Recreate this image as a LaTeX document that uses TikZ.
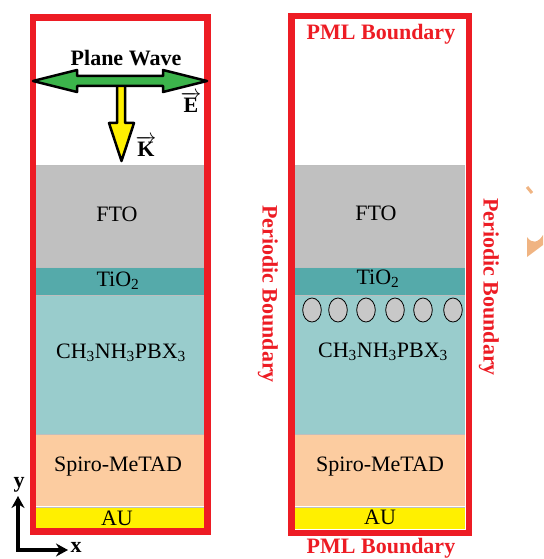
\documentclass[tikz,border=0pt]{standalone}
\usepackage{fontspec}
\setmainfont{Liberation Serif}
\usetikzlibrary{arrows.meta}
\definecolor{pmlred}{RGB}{237,28,36}
\definecolor{ftogray}{RGB}{192,192,192}
\definecolor{tiocol}{RGB}{85,170,170}
\definecolor{perocol}{RGB}{153,204,204}
\definecolor{spirocol}{RGB}{252,204,160}
\definecolor{aucol}{RGB}{255,240,0}
\definecolor{wavegreen}{RGB}{60,180,75}
\definecolor{kyellow}{RGB}{255,240,0}
\definecolor{sepgray}{RGB}{190,190,190}
\definecolor{partgray}{RGB}{200,200,200}
\definecolor{smudge}{RGB}{240,180,130}
\tikzset{
  lbl/.style={font=\fontsize{22}{26}\selectfont, inner sep=0pt},
  blbl/.style={font=\fontsize{22}{26}\selectfont\bfseries, inner sep=0pt},
  redlbl/.style={blbl, text=pmlred},
  frame/.style={draw=pmlred, line width=6.5pt},
  sep/.style={draw=sepgray, line width=1pt},
  particle/.style={fill=partgray, draw=black, line width=0.8pt},
  outlinearrow/.style={draw=black, line width=2.5pt, line join=round},
  axis/.style={line width=3.5pt, line join=miter, {Stealth[length=12pt,width=13pt]}-{Stealth[length=12pt,width=13pt]}}
}
\begin{document}
\begin{tikzpicture}[x=1pt,y=-1pt]
\useasboundingbox (0,0) rectangle (543,559);
% ---------- left stack ----------
\fill[ftogray] (36,165) rectangle (204,267);
\fill[tiocol] (36,267) rectangle (204,295);
\fill[perocol] (36,295) rectangle (204,434);
\fill[spirocol] (36,434) rectangle (204,506);
\fill[aucol] (36,508) rectangle (204,528);
\draw[sep] (36,165) -- (204,165);
\draw[sep] (36,267) -- (204,267);
\draw[sep] (36,295) -- (204,295);
\draw[sep] (36,434) -- (204,434);
\draw[sep] (36,507) -- (204,507);
\draw[frame] (33,17.3) rectangle (207.5,531.5);
% ---------- right stack ----------
\fill[ftogray] (295,165) rectangle (465,267);
\fill[tiocol] (295,267) rectangle (465,295);
\fill[perocol] (295,295) rectangle (465,434);
\fill[spirocol] (295,434) rectangle (465,506);
\fill[aucol] (295,508) rectangle (465,529);
\draw[sep] (295,165) -- (465,165);
\draw[sep] (295,267) -- (465,267);
\draw[sep] (295,295) -- (465,295);
\draw[sep] (295,434) -- (465,434);
\draw[sep] (295,507) -- (465,507);
\foreach \cx in {312,338,366,395,423,453}
  \draw[particle] (\cx,310) ellipse [x radius=9.3, y radius=12];
\draw[frame] (291.5,16) rectangle (469,533);
% ---------- plane wave ----------
\filldraw[fill=kyellow, outlinearrow] (117,84) -- (125,84) -- (125,123) -- (134,123) -- (121.5,161) -- (109,123) -- (117,123) -- cycle;
\filldraw[fill=wavegreen, outlinearrow] (33,81) -- (77,70) -- (77,76) -- (163,76) -- (163,70) -- (207,81) -- (163,92) -- (163,86) -- (77,86) -- (77,92) -- cycle;
\node[blbl] (pw) at (126,58) {Plane Wave};
\node[blbl] (evec) at (191,102) {$\overrightarrow{\hbox{\textbf{E}}}$};
\node[blbl] (kvec) at (146,146) {$\overrightarrow{\hbox{\textbf{K}}}$};
% ---------- layer labels ----------
\node[lbl] (fto1) at (117,214) {FTO};
\node[lbl] (tio1) at (118,281) {TiO\textsubscript{2}};
\node[lbl] (per1) at (121,353) {CH\textsubscript{3}NH\textsubscript{3}PBX\textsubscript{3}};
\node[lbl] (spi1) at (118,467) {Spiro-MeTAD};
\node[lbl] (au1) at (117,518) {AU};
\node[lbl] (fto2) at (376,213) {FTO};
\node[lbl] (tio2) at (378,279) {TiO\textsubscript{2}};
\node[lbl] (per2) at (383,352) {CH\textsubscript{3}NH\textsubscript{3}PBX\textsubscript{3}};
\node[lbl] (spi2) at (380,467) {Spiro-MeTAD};
\node[lbl] (au2) at (380,517) {AU};
% ---------- boundary labels ----------
\node[redlbl] (pmltop) at (381,34) {PML Boundary};
\node[redlbl] (pmlbot) at (381,548) {PML Boundary};
\node[redlbl, rotate=-90] (perl) at (268,294) {Periodic Boundary};
\node[redlbl, rotate=-90] (perr) at (489,287) {Periodic Boundary};
% ---------- axes ----------
\coordinate (o) at (18,550);
\coordinate (ytip) at (18,496);
\coordinate (xtip) at (68,550);
\draw[axis] (ytip) -- (o) -- (xtip);
\node[blbl] (ylab) at (19,485) {y};
\node[blbl] (xlab) at (76,547) {x};
% ---------- smudge at right edge ----------
\draw[smudge, line width=3pt] (527,187) -- (532,193);
\fill[smudge] (527,237) .. controls (532,244) and (538,243) .. (543,235) -- (543,245) -- (527,257) -- cycle;
\end{tikzpicture}
\end{document}
